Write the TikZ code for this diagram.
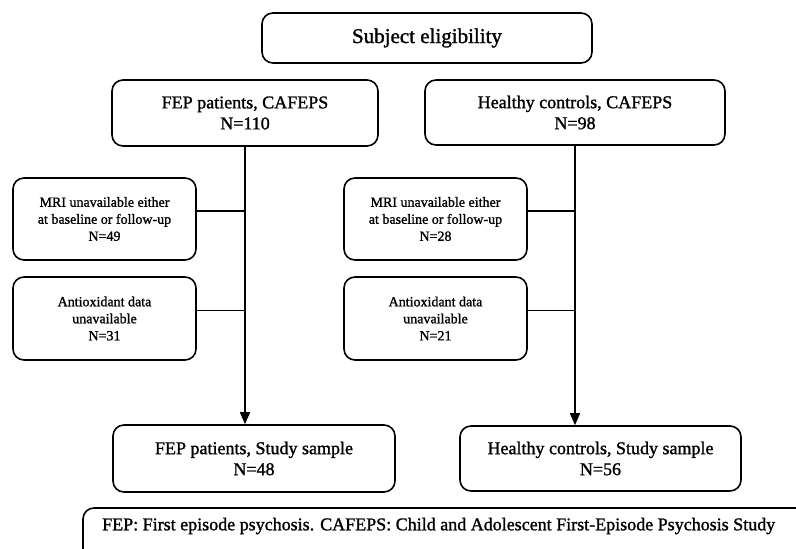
\documentclass[tikz,border=0pt]{standalone}
\usepackage{fontspec}
\setmainfont{Liberation Serif}[FakeBold=1.3]
\usetikzlibrary{arrows.meta}
\begin{document}
\begin{tikzpicture}[x=1pt,y=-1pt,
  box/.style={draw=black,line width=1.6pt,rounded corners=11pt,align=center,inner sep=0pt,text=black},
  big/.style={box,font=\fontsize{21}{25}\selectfont},
  mid/.style={box,font=\fontsize{18}{21}\selectfont},
  small/.style={box,font=\fontsize{14}{17}\selectfont},
  conn/.style={draw=black,line width=1.6pt},
  arr/.style={conn,-{Triangle[length=12pt,width=10pt]}}]
\useasboundingbox (0,0) rectangle (796,549);
\clip (0,0) rectangle (796,549);
\node[big,minimum width=330pt,minimum height=50pt] (title) at (427,38) {Subject eligibility};
\node[mid,minimum width=266pt,minimum height=66pt] (fep) at (245,113) {FEP patients, CAFEPS\\N=110};
\node[mid,minimum width=300pt,minimum height=65pt] (hc) at (575,112.5) {Healthy controls, CAFEPS\\N=98};
\node[small,minimum width=183pt,minimum height=82pt] (mri1) at (104.5,219) {MRI unavailable either\\at baseline or follow-up\\N=49};
\node[small,minimum width=183pt,minimum height=83pt] (anti1) at (104.5,318.5) {Antioxidant data\\unavailable\\N=31};
\node[small,minimum width=183pt,minimum height=82pt] (mri2) at (435.5,219) {MRI unavailable either\\at baseline or follow-up\\N=28};
\node[small,minimum width=183pt,minimum height=83pt] (anti2) at (435.5,318.5) {Antioxidant data\\unavailable\\N=21};
\node[mid,minimum width=282pt,minimum height=67pt] (fs) at (254,458.5) {FEP patients, Study sample\\N=48};
\node[mid,minimum width=281pt,minimum height=65pt] (hs) at (600.5,458.5) {Healthy controls, Study sample\\N=56};
\draw[arr] (fep.south) -- (fep.south |- fs.north);
\draw[arr] (hc.south) -- (hc.south |- hs.north);
\draw[conn] ([yshift=8pt]mri1.east) -- ([yshift=8pt]mri1.east -| fep.south);
\draw[conn] ([yshift=8pt]anti1.east) -- ([yshift=8pt]anti1.east -| fep.south);
\draw[conn] ([yshift=8pt]mri2.east) -- ([yshift=8pt]mri2.east -| hc.south);
\draw[conn] ([yshift=8pt]anti2.east) -- ([yshift=8pt]anti2.east -| hc.south);
\draw[conn,rounded corners=11pt] (83,600) -- (83,508) -- (840,508);
\node[anchor=west,inner sep=0pt,font=\fontsize{18}{21}\selectfont] (foot) at (102,526) {FEP: First episode psychosis. CAFEPS: Child and Adolescent First-Episode Psychosis Study};
\end{tikzpicture}
\end{document}
